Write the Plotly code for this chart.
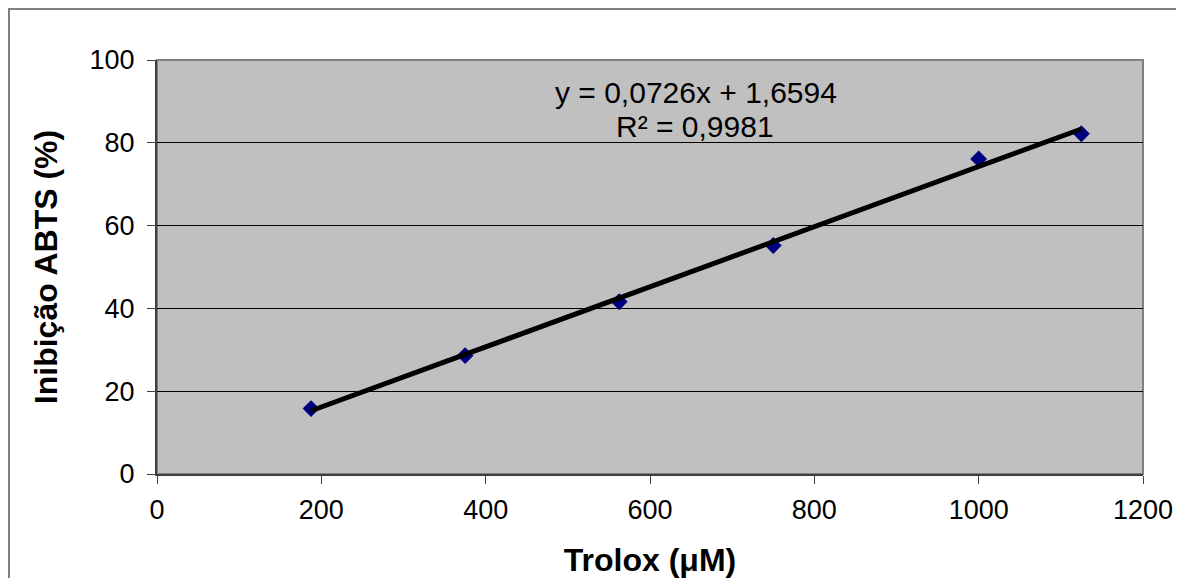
import plotly.graph_objects as go

# Data
trolox_uM = [187.5, 375, 562.5, 750, 1000, 1125]
inhibition_pct = [15.8, 28.6, 41.6, 55.2, 76.1, 82.2]
slope = 0.0726
intercept = 1.6594
r2_label = "R² = 0,9981"
eq_label = "y = 0,0726x + 1,6594"
x_ticks = [0, 200, 400, 600, 800, 1000, 1200]
y_ticks = [0, 20, 40, 60, 80, 100]

OFF = 8  # page body margin
W, H = 1184 - OFF, 578 - OFF
ML, MR, MT, MB = 157 - OFF, 41, 60 - OFF, 104
PW, PH = W - ML - MR, H - MT - MB

FONT = "Liberation Sans, Arial, sans-serif"

fit_x = [min(trolox_uM), max(trolox_uM)]
fit_y = [slope * v + intercept for v in fit_x]

fig = go.Figure()
fig.add_trace(go.Scatter(
    x=trolox_uM, y=inhibition_pct, mode="markers",
    marker=dict(symbol="diamond", size=13, color="#000080",
                line=dict(width=0)),
    showlegend=False, cliponaxis=False))
fig.add_trace(go.Scatter(
    x=fit_x, y=fit_y, mode="lines",
    line=dict(color="black", width=5),
    showlegend=False))

def px_to_paper_x(px):
    return (px - OFF - ML) / PW

def px_to_paper_y(py):
    return 1 - (py - OFF - MT) / PH

# outer chart frame (left edge at the figure's own left edge)
fig.add_shape(type="rect", xref="paper", yref="paper",
              x0=px_to_paper_x(OFF + 1), x1=px_to_paper_x(1200),
              y0=px_to_paper_y(600), y1=px_to_paper_y(9),
              line=dict(color="#808080", width=2), layer="below")
# plot area border
fig.add_shape(type="rect", xref="paper", yref="paper",
              x0=0, x1=1, y0=0, y1=1,
              line=dict(color="#808080", width=2), layer="below")

fig.add_annotation(x=px_to_paper_x(696), y=px_to_paper_y(92),
                   xref="paper", yref="paper", text=eq_label,
                   showarrow=False, xanchor="center", yanchor="middle",
                   font=dict(family=FONT, size=30, color="black"))
fig.add_annotation(x=px_to_paper_x(695), y=px_to_paper_y(126),
                   xref="paper", yref="paper", text=r2_label,
                   showarrow=False, xanchor="center", yanchor="middle",
                   font=dict(family=FONT, size=30, color="black"))

fig.update_layout(
    width=W, height=H,
    margin=dict(l=ML, r=MR, t=MT, b=MB, pad=0, autoexpand=False),
    paper_bgcolor="white", plot_bgcolor="#C0C0C0",
    font=dict(family=FONT, size=27, color="black"),
    showlegend=False,
)
fig.update_xaxes(
    automargin=False,
    range=[0, 1200], tickvals=x_ticks, ticktext=[str(v) for v in x_ticks],
    showgrid=False, zeroline=False,
    showline=True, linecolor="#404040", linewidth=2,
    ticks="outside", ticklen=8, tickwidth=1, tickcolor="#404040",
    tickfont=dict(family=FONT, size=27), ticklabelstandoff=3,
    title=dict(text="<b>Trolox (μM)</b>", font=dict(family=FONT, size=32),
               standoff=27),
)
fig.update_yaxes(
    automargin=False,
    range=[0, 100], tickvals=y_ticks, ticktext=[str(v) for v in y_ticks],
    showgrid=True, gridcolor="black", gridwidth=1, zeroline=False,
    showline=True, linecolor="#404040", linewidth=2,
    ticks="outside", ticklen=8, tickwidth=1, tickcolor="#404040",
    tickfont=dict(family=FONT, size=27), ticklabelstandoff=7,
    title=dict(text="<b>Inibição ABTS (%)</b>", font=dict(family=FONT, size=32),
               standoff=22),
)

fig.write_html("out.html")
